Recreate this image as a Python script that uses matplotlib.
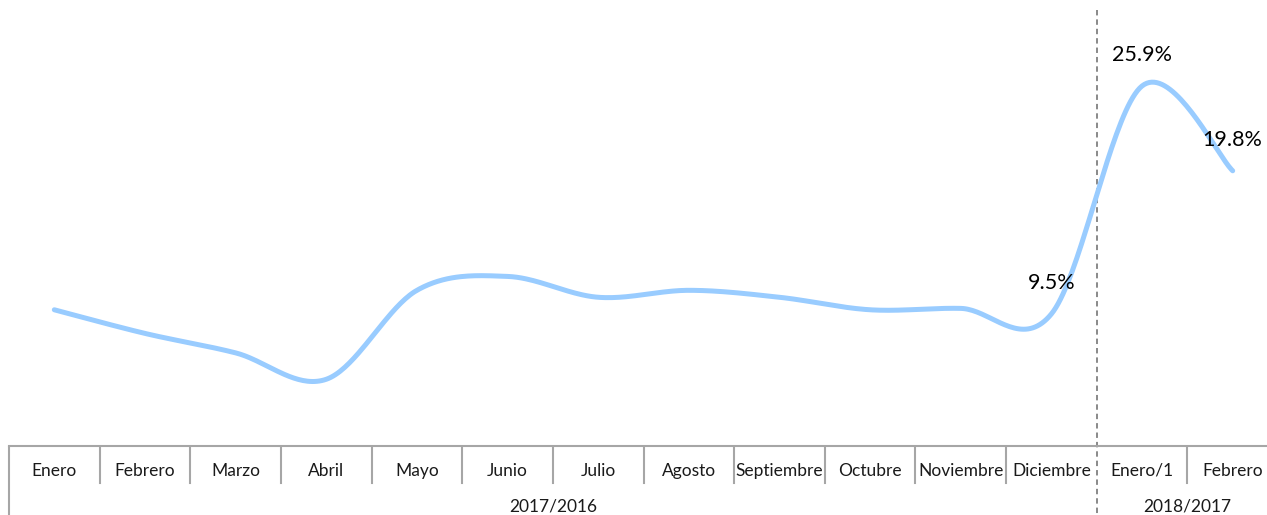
import numpy as np
import matplotlib
matplotlib.use("Agg")
import matplotlib.pyplot as plt
import matplotlib.transforms as mtransforms

plt.rcParams['font.family'] = ['Lato', 'DejaVu Sans']

# data (percent)
months = ["Enero", "Febrero", "Marzo", "Abril", "Mayo", "Junio", "Julio",
          "Agosto", "Septiembre", "Octubre", "Noviembre", "Diciembre",
          "Enero/1", "Febrero"]
values = [9.8, 8.1, 6.7, 4.8, 11.2, 12.2, 10.7, 11.2, 10.7, 9.8, 9.9, 9.5,
          25.9, 19.8]
groups = ["2017/2016", "2018/2017"]
group_sizes = [12, 2]
labeled = [11, 12, 13]  # points that carry a data label


def smooth(xs, ys, n=40):
    # catmull-rom style bezier, like the spreadsheet "smoothed line"
    xs = np.asarray(xs, float)
    ys = np.asarray(ys, float)
    px = np.concatenate([[xs[0]], xs, [xs[-1]]])
    py = np.concatenate([[ys[0]], ys, [ys[-1]]])
    out_x, out_y = [], []
    t = np.linspace(0, 1, n)
    for i in range(1, len(px) - 2):
        p0 = np.array([px[i], py[i]])
        p3 = np.array([px[i + 1], py[i + 1]])
        c1 = p0 + (np.array([px[i + 1], py[i + 1]]) - np.array([px[i - 1], py[i - 1]])) / 6
        c2 = p3 - (np.array([px[i + 2], py[i + 2]]) - np.array([px[i], py[i]])) / 6
        b = ((1 - t) ** 3)[:, None] * p0 + (3 * (1 - t) ** 2 * t)[:, None] * c1 \
            + (3 * (1 - t) * t ** 2)[:, None] * c2 + (t ** 3)[:, None] * p3
        out_x.extend(b[:, 0])
        out_y.extend(b[:, 1])
    return np.array(out_x), np.array(out_y)


W, H = 1267, 515
fig = plt.figure(figsize=(W / 100, H / 100), dpi=100)
left, right, top, bottom = 9, 1278, 10, 446
ax = fig.add_axes([left / W, 1 - bottom / H, (right - left) / W, (bottom - top) / H])

x = np.arange(len(months))
sx, sy = smooth(x, values)
ax.plot(sx, sy, color="#99CCFF", lw=3.6, solid_capstyle="round", zorder=3)

ax.set_xlim(-0.5, len(months) - 0.5)
ax.set_ylim(0, (bottom - top) / 13.9)
ax.set_yticks([])
ax.set_xticks([])
for s in ["left", "right", "top"]:
    ax.spines[s].set_visible(False)
ax.spines["bottom"].set_color("#A6A6A6")
ax.spines["bottom"].set_linewidth(1.5)

trans = mtransforms.blended_transform_factory(ax.transData, ax.transAxes)
px_h = bottom - top

def ay(py):
    # pixel row in the figure -> axes y fraction
    return (bottom - py) / px_h

# category boundaries
edges = np.arange(len(months) + 1) - 0.5
group_edges = np.concatenate([[0], np.cumsum(group_sizes)]) - 0.5
for e in edges:
    if e in group_edges:
        continue
    ax.plot([e, e], [ay(447), ay(483)], transform=trans, color="#A6A6A6",
            lw=1.5, clip_on=False)
ax.plot([group_edges[0]] * 2, [ay(447), ay(520)], transform=trans,
        color="#A6A6A6", lw=1.5, clip_on=False)
ax.plot([group_edges[-1]] * 2, [ay(447), ay(520)], transform=trans,
        color="#A6A6A6", lw=1.5, clip_on=False)
# dashed separator between years
for e in group_edges[1:-1]:
    ax.plot([e, e], [1.0, ay(520)], transform=trans, color="#808080",
            lw=1.3, ls=(0, (3, 2.2)), clip_on=False)

for i, m in enumerate(months):
    ax.text(i, ay(471), m, transform=trans, ha="center", va="center",
            fontsize=12.5, color="#1a1a1a")
for g, a, b in zip(groups, group_edges[:-1], group_edges[1:]):
    ax.text((a + b) / 2, ay(507), g, transform=trans, ha="center", va="center",
            fontsize=12.5, color="#1a1a1a")

for i in labeled:
    ax.annotate(f"{values[i]:.1f}%", (i, values[i]), xytext=(0, 31),
                textcoords="offset pixels", ha="center", va="center",
                fontsize=15.5, color="#000000", zorder=4)

fig.savefig("out.png", dpi=100)
